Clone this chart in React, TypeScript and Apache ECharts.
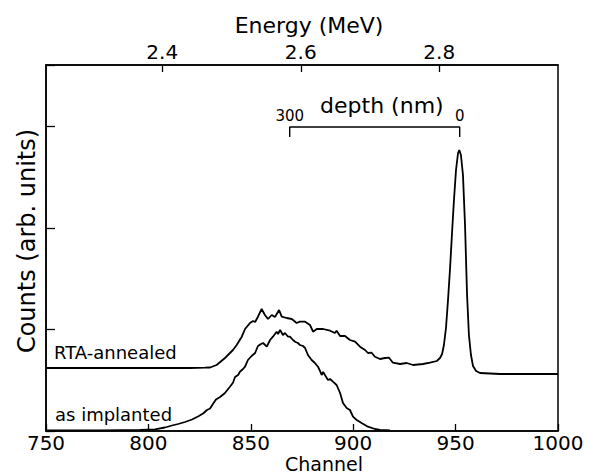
import React, { useEffect, useRef } from 'react';
import * as echarts from 'echarts';

// RTA-annealed spectrum (channel, counts in arb. units)
const rtaChannels = [
  750, 776.4, 800.8, 820.3, 827.6, 830.1, 833.3, 837.4, 841.3, 843.1, 845.6, 847.2, 849.6, 851.1, 852.1,
  853.5, 855.3, 856.9, 858.4, 860.2, 861.8, 863.8, 865.1, 867.5, 870.0, 872.4, 874.0, 876.5, 878.9, 880.4,
  882.2, 885.3, 888.7, 891.1, 891.9, 893.6, 896.0, 898.4, 900.9, 903.3, 905.8, 907.2, 909.0, 910.6, 913.1,
  915.5, 917.5, 919.4, 922.9, 926.1, 929.2, 934.1, 937.5, 940.8, 942.4, 943.4, 944.3, 945.3, 946.3, 947.3,
  948.2, 949.2, 950.2, 951.2, 951.8, 952.6, 953.6, 954.6, 955.6, 956.5, 957.5, 958.5, 960.0, 961.9, 971.7, 1000,
];
const rtaCounts = [
  630, 630, 630, 630, 633, 635, 660, 730, 810, 860, 943, 1020, 1080, 1100, 1090,
  1143, 1220, 1160, 1120, 1160, 1140, 1210, 1143, 1130, 1120, 1080, 1093, 1093, 1060, 993,
  1020, 1020, 1003, 980, 1003, 950, 950, 910, 893, 843, 810, 780, 783, 743, 720,
  730, 733, 683, 670, 680, 660, 670, 683, 700, 730, 770, 860, 1030, 1310, 1630,
  1960, 2310, 2610, 2780, 2810, 2760, 2560, 2060, 1360, 960, 760, 650, 600, 580, 570, 570,
];

// As-implanted spectrum
const implChannels = [
  750, 776.4, 795.9, 803.2, 808.1, 811.5, 814.5, 817.9, 821.3, 824.2, 826.7, 828.6, 830.1, 831.5, 833.0,
  835.0, 837.4, 839.8, 841.3, 842.3, 843.8, 844.7, 846.2, 847.2, 848.6, 850.4, 852.1, 853.5, 855.0, 856.0,
  857.8, 859.4, 860.8, 862.6, 863.3, 864.3, 865.7, 866.7, 868.2, 869.1, 870.6, 871.6, 873.0, 874.0, 875.5,
  876.5, 877.9, 879.7, 881.3, 882.8, 883.8, 884.6, 885.3, 886.2, 887.7, 888.7, 890.1, 891.9, 893.6, 895.0,
  896.8, 898.4, 899.9, 901.7, 904.1, 907.2, 910.6, 913.1, 918.0,
];
const implCounts = [
  5, 7, 12, 17, 35, 55, 70, 90, 115, 145, 175, 210, 225, 270, 315,
  340, 380, 443, 483, 540, 560, 593, 620, 643, 710, 750, 780, 850, 870, 880,
  843, 910, 943, 993, 970, 1010, 960, 980, 943, 943, 910, 893, 880, 860, 850,
  830, 760, 710, 680, 643, 600, 560, 590, 560, 510, 520, 493, 460, 380, 280,
  230, 210, 143, 110, 80, 43, 20, 10, 5,
];

// Top energy axis
const energyMin = 2.2321;
const energyMax = 2.9715;
const energyTicks = [2.4, 2.6, 2.8];

// Depth scale bracket
const depthChannels = [869, 952];
const depthTickLabels = ['300', '0'];
const depthTitleChannel = 914;
const bracketLevel = 3040;
const bracketFoot = 2940;

const FONT = 'DejaVu Sans';

export default function App() {
  const ref = useRef<HTMLDivElement>(null);

  useEffect(() => {
    document.body.style.margin = '0';
    const chart = echarts.init(ref.current!, null, { renderer: 'svg' });

    const rtaData = rtaChannels.map((c, i) => [c, rtaCounts[i]]);
    const implData = implChannels.map((c, i) => [c, implCounts[i]]);
    const bracketData = [
      [depthChannels[0], bracketFoot],
      [depthChannels[0], bracketLevel],
      [depthChannels[1], bracketLevel],
      [depthChannels[1], bracketFoot],
    ];
    const depthLabelData = [
      { value: [depthChannels[0], bracketLevel], label: { formatter: depthTickLabels[0], fontSize: 15, distance: 4, color: '#000' } },
      { value: [depthChannels[1], bracketLevel], label: { formatter: depthTickLabels[1], fontSize: 15, distance: 4, color: '#000' } },
      { value: [depthTitleChannel, bracketLevel], label: { formatter: 'depth (nm)', fontSize: 22, distance: 11, color: '#000' } },
    ];

    chart.setOption({
      animation: false,
      backgroundColor: '#fff',
      grid: {
        left: 46,
        right: 32,
        top: 65,
        bottom: 42,
        containLabel: false,
        outerBoundsMode: 'none',
        show: true,
        borderColor: '#000',
        borderWidth: 1.5,
        backgroundColor: 'transparent',
      },
      xAxis: [
        {
          type: 'value',
          position: 'bottom',
          min: 750,
          max: 1000,
          interval: 50,
          name: 'Channel',
          nameLocation: 'middle',
          nameGap: 23,
          nameMoveOverlap: false,
          nameTextStyle: { fontFamily: FONT, fontSize: 19, color: '#000', padding: [0, 0, 0, 44] },
          axisLine: { show: true, lineStyle: { color: '#000', width: 1.5 } },
          axisTick: { show: true, inside: true, length: 7, lineStyle: { color: '#000', width: 1.3 } },
          axisLabel: { fontFamily: FONT, fontSize: 20, color: '#000', margin: 2, formatter: (v: number) => String(v) },
          splitLine: { show: false },
        },
        {
          type: 'value',
          position: 'top',
          min: energyMin,
          max: energyMax,
          name: 'Energy (MeV)',
          nameLocation: 'middle',
          nameGap: 29,
          nameMoveOverlap: false,
          nameTextStyle: { fontFamily: FONT, fontSize: 22, color: '#000', padding: [0, 0, 0, 14] },
          axisLine: { show: true, lineStyle: { color: '#000', width: 1.5 } },
          axisTick: { show: true, inside: true, length: 7, customValues: energyTicks, lineStyle: { color: '#000', width: 1.3 } },
          axisLabel: {
            fontFamily: FONT,
            fontSize: 20,
            color: '#000',
            margin: 3,
            customValues: energyTicks,
            formatter: (v: number) => v.toFixed(1),
          },
          splitLine: { show: false },
        },
      ],
      yAxis: {
        type: 'value',
        min: 0,
        max: 3660,
        interval: 1015,
        name: 'Counts (arb. units)',
        nameLocation: 'middle',
        nameGap: 7,
        nameMoveOverlap: false,
        nameTextStyle: { fontFamily: FONT, fontSize: 24, color: '#000', padding: [0, 0, 0, 14] },
        axisLine: { show: true, lineStyle: { color: '#000', width: 1.5 } },
        axisTick: { show: true, inside: true, length: 9, lineStyle: { color: '#000', width: 1.3 } },
        axisLabel: { show: false },
        splitLine: { show: false },
      },
      series: [
        {
          name: 'RTA-annealed',
          type: 'line',
          data: rtaData,
          showSymbol: false,
          symbol: 'none',
          lineStyle: { color: '#000', width: 1.8 },
          z: 3,
        },
        {
          name: 'as implanted',
          type: 'line',
          data: implData,
          showSymbol: false,
          symbol: 'none',
          lineStyle: { color: '#000', width: 1.8 },
          z: 3,
        },
        {
          name: 'depth bracket',
          type: 'line',
          data: bracketData,
          showSymbol: false,
          symbol: 'none',
          lineStyle: { color: '#000', width: 1.4 },
          z: 3,
        },
        {
          name: 'depth labels',
          type: 'scatter',
          data: depthLabelData,
          symbolSize: 0,
          itemStyle: { color: '#000', opacity: 1 },
          label: {
            show: true,
            position: 'top',
            fontFamily: FONT,
            color: '#000',
          },
          z: 4,
        },
      ],
      graphic: [
        {
          type: 'text',
          x: 54,
          y: 352,
          style: { text: 'RTA-annealed', fontFamily: FONT, fontSize: 18, fill: '#000', verticalAlign: 'middle', align: 'left' },
        },
        {
          type: 'text',
          x: 55,
          y: 414,
          style: { text: 'as implanted', fontFamily: FONT, fontSize: 18, fill: '#000', verticalAlign: 'middle', align: 'left' },
        },
      ],
    });

    return () => chart.dispose();
  }, []);

  return <div ref={ref} style={{ width: 590, height: 473 }} />;
}
